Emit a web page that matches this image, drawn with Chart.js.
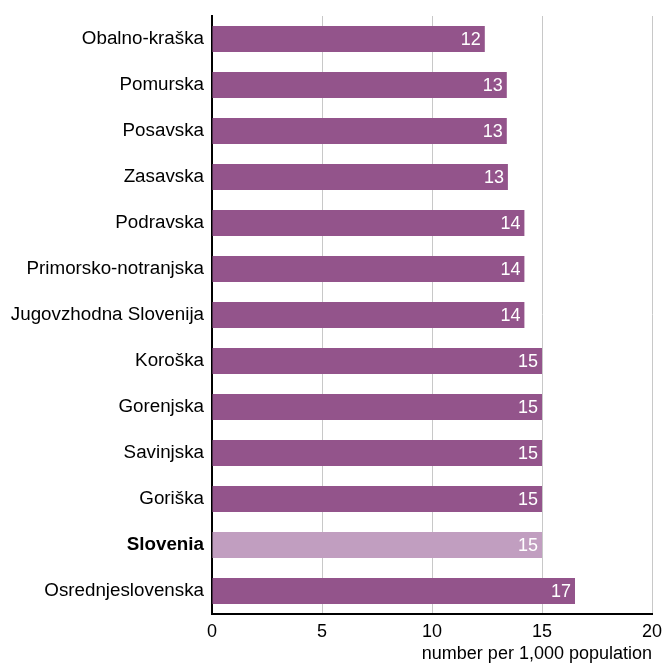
<!DOCTYPE html>
<html><head><meta charset="utf-8">
<script src="https://cdn.jsdelivr.net/npm/chart.js@4/dist/chart.umd.min.js"></script>
<style>html,body{margin:0;padding:0;background:#fff}#wrap{width:663px;height:664px}</style>
</head><body><div id="wrap"><canvas id="c" width="663" height="664"></canvas></div>
<script>
const regions = ["Obalno-kraška","Pomurska","Posavska","Zasavska","Podravska","Primorsko-notranjska","Jugovzhodna Slovenija","Koroška","Gorenjska","Savinjska","Goriška","Slovenia","Osrednjeslovenska"];
const values = [12.4,13.4,13.4,13.45,14.2,14.2,14.2,15.0,15.0,15.0,15.0,15.0,16.5];
const highlight = "Slovenia";
const xTicks = [0,5,10,15,20];
const axisTitle = "number per 1,000 population";

const FONT = "'Liberation Sans', Arial, sans-serif";
const barColors = regions.map(r => r === highlight ? "#c19ec0" : "#93548b");

const labelPlugin = {
  id: 'valueLabels',
  afterDatasetsDraw(chart) {
    const ctx = chart.ctx;
    const meta = chart.getDatasetMeta(0);
    ctx.save();
    ctx.font = "18px " + FONT;
    ctx.fillStyle = "#ffffff";
    ctx.textAlign = "right";
    ctx.textBaseline = "middle";
    meta.data.forEach((bar, i) => {
      ctx.fillText(String(Math.round(values[i])), bar.x - 4, bar.y + 1);
    });
    ctx.restore();
  }
};

new Chart(document.getElementById('c'), {
  type: 'bar',
  data: { labels: regions, datasets: [{ data: values, backgroundColor: barColors, borderWidth: 0, barPercentage: 0.57, categoryPercentage: 1 }] },
  options: {
    indexAxis: 'y',
    responsive: false,
    animation: false,
    devicePixelRatio: 1,
    layout: { padding: { left: 0, right: 11, top: 16, bottom: 0 } },
    plugins: { legend: { display: false }, tooltip: { enabled: false } },
    scales: {
      x: {
        min: 0, max: 20,
        afterBuildTicks: s => { s.ticks = xTicks.map(v => ({ value: v })); },
        afterFit: s => { s.height = 50; s.paddingRight = 0; s.paddingLeft = 0; },
        grid: { color: "#c8c8c8", lineWidth: 1, drawTicks: false },
        border: { color: "#000000", width: 2 },
        ticks: { color: "#000", font: { size: 18, family: FONT }, padding: 7 },
        title: { display: true, text: axisTitle, align: 'end', color: "#000", font: { size: 18, family: FONT }, padding: { top: 4, bottom: -1 } }
      },
      y: {
        afterFit: s => { s.width = 212; s.paddingTop = 0; s.paddingBottom = 0; },
        grid: { display: false, drawTicks: false },
        border: { color: "#000000", width: 2 },
        ticks: {
          color: "#000",
          padding: 8,
          font: c => ({ size: 18.8, family: FONT, weight: regions[c.index] === highlight ? 'bold' : 'normal' })
        }
      }
    }
  },
  plugins: [labelPlugin]
});
</script></body></html>
